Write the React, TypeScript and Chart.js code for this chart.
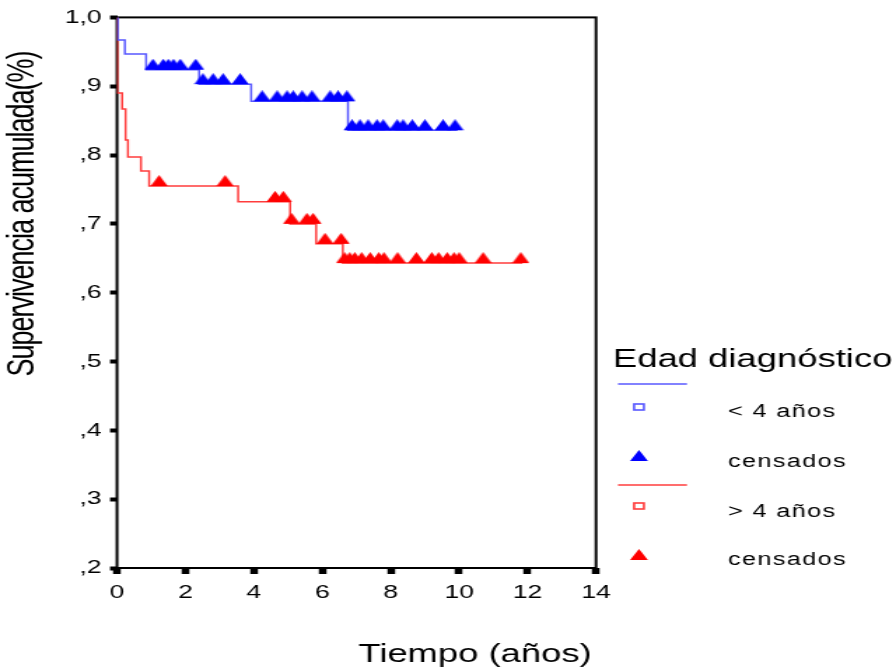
import React, { useEffect, useRef } from 'react';
import { Chart, registerables } from 'chart.js';
Chart.register(...registerables);

// ---- data ----
const blueTimes = [0, 0.02, 0.23, 0.85, 2.4, 3.92, 6.75, 9.95];
const blueSurv = [1.0, 0.967, 0.947, 0.924, 0.903, 0.878, 0.836, 0.836];
const blueCensTimes = [1.05, 1.35, 1.5, 1.65, 1.85, 2.3, 2.51, 2.81, 3.1, 3.6, 4.24, 4.68, 4.97, 5.15, 5.41, 5.7, 6.23, 6.46, 6.72, 6.87, 7.1, 7.34, 7.6, 7.78, 8.19, 8.36, 8.63, 9.0, 9.53, 9.88];
const blueCensSurv = [0.924, 0.924, 0.924, 0.924, 0.924, 0.924, 0.903, 0.903, 0.903, 0.903, 0.878, 0.878, 0.878, 0.878, 0.878, 0.878, 0.878, 0.878, 0.878, 0.836, 0.836, 0.836, 0.836, 0.836, 0.836, 0.836, 0.836, 0.836, 0.836, 0.836];

const redTimes = [0, 0.01, 0.15, 0.25, 0.32, 0.7, 0.94, 3.54, 5.06, 5.82, 6.6, 11.85];
const redSurv = [1.0, 0.89, 0.867, 0.822, 0.797, 0.777, 0.755, 0.732, 0.7, 0.671, 0.643, 0.643];
const redCensTimes = [1.23, 3.16, 4.62, 4.86, 5.1, 5.55, 5.73, 6.08, 6.55, 6.65, 6.8, 6.95, 7.15, 7.4, 7.65, 7.8, 8.2, 8.75, 9.2, 9.4, 9.65, 9.85, 10.0, 10.7, 11.8];
const redCensSurv = [0.755, 0.755, 0.732, 0.732, 0.7, 0.7, 0.7, 0.671, 0.671, 0.643, 0.643, 0.643, 0.643, 0.643, 0.643, 0.643, 0.643, 0.643, 0.643, 0.643, 0.643, 0.643, 0.643, 0.643, 0.643];

const xTicks = [0, 2, 4, 6, 8, 10, 12, 14];
const yTickLabels = [',2', ',3', ',4', ',5', ',6', ',7', ',8', ',9', '1,0'];
const yTitle = 'Supervivencia acumulada(%)';
const xTitle = 'Tiempo (años)';
const legendTitle = 'Edad diagnóstico';
const legendLabels = ['< 4 años', 'censados', '> 4 años', 'censados'];

// ---- styles ----
const S = 1.4; // horizontal stretch of the original picture
const W = 640;
const H = 669;
const FONT = 'Arial, "Liberation Sans", sans-serif';
const BLUE_LINE = '#5858ff';
const RED_LINE = '#ff3c3c';
const BLUE = '#0000ff';
const RED = '#ff0000';

function makeTri(color: string) {
  const c = document.createElement('canvas');
  c.width = 13;
  c.height = 22;
  const g = c.getContext('2d')!;
  g.fillStyle = color;
  g.beginPath();
  g.moveTo(6.5, 0);
  g.lineTo(12.6, 11);
  g.lineTo(0.4, 11);
  g.closePath();
  g.fill();
  return c;
}

const pts = (xs: number[], ys: number[]) => xs.map((x, i) => ({ x, y: ys[i] }));

const decor = {
  id: 'decor',
  beforeDatasetsDraw(chart: any) {
    const { ctx, chartArea: a } = chart;
    ctx.save();
    ctx.strokeStyle = '#000';
    ctx.lineWidth = 2;
    ctx.strokeRect(a.left, a.top, a.right - a.left, a.bottom - a.top);
    ctx.restore();
  },
  afterDraw(chart: any) {
    const ctx = chart.ctx as CanvasRenderingContext2D;
    ctx.save();
    ctx.fillStyle = '#000';
    // y title
    ctx.save();
    ctx.translate(23 / S, 214);
    ctx.rotate(-Math.PI / 2);
    ctx.font = `27px ${FONT}`;
    (ctx as any).letterSpacing = '-1px';
    ctx.textAlign = 'center';
    ctx.textBaseline = 'middle';
    ctx.fillText(yTitle, 0, 0);
    ctx.restore();
    // x title
    ctx.font = `26px ${FONT}`;
    ctx.textAlign = 'center';
    ctx.textBaseline = 'alphabetic';
    ctx.fillText(xTitle, 475 / S, 662);
    // legend title
    ctx.textAlign = 'left';
    ctx.fillText(legendTitle, 613 / S, 367);
    // legend lines
    const lines: [string, number][] = [[BLUE_LINE, 384], [RED_LINE, 485]];
    lines.forEach(([col, y]) => {
      ctx.strokeStyle = col;
      ctx.lineWidth = 1.5;
      ctx.beginPath();
      ctx.moveTo(618 / S, y);
      ctx.lineTo(687 / S, y);
      ctx.stroke();
    });
    // squares
    const sq: [string, number][] = [[BLUE_LINE, 407], [RED_LINE, 506]];
    sq.forEach(([col, y]) => {
      ctx.strokeStyle = col;
      ctx.lineWidth = 1.6;
      ctx.strokeRect(639 / S - 3.5, y - 3, 7, 6);
    });
    // triangles
    const tr: [string, number][] = [[BLUE, 461], [RED, 560]];
    tr.forEach(([col, y]) => {
      const cx = 639 / S;
      ctx.fillStyle = col;
      ctx.beginPath();
      ctx.moveTo(cx, y - 11);
      ctx.lineTo(cx + 6.4, y);
      ctx.lineTo(cx - 6.4, y);
      ctx.closePath();
      ctx.fill();
    });
    // labels
    ctx.fillStyle = '#000';
    ctx.font = `18px ${FONT}`;
    (ctx as any).letterSpacing = '1px';
    const baselines = [417, 467, 517, 565];
    legendLabels.forEach((t, i) => ctx.fillText(t, 728 / S, baselines[i]));
    ctx.restore();
  },
};

export default function App() {
  const ref = useRef<HTMLCanvasElement>(null);
  useEffect(() => {
    const triB = makeTri(BLUE);
    const triR = makeTri(RED);
    const chart = new Chart(ref.current!, {
      type: 'line',
      data: {
        datasets: [
          { label: '< 4 años', data: pts(blueTimes, blueSurv), borderColor: BLUE_LINE, borderWidth: 1.5, pointRadius: 0, stepped: true, fill: false, order: 1 },
          { label: '> 4 años', data: pts(redTimes, redSurv), borderColor: RED_LINE, borderWidth: 1.5, pointRadius: 0, stepped: true, fill: false, order: 1 },
          { label: 'censados', data: pts(blueCensTimes, blueCensSurv), showLine: false, pointStyle: triB as any, pointRadius: 6, borderColor: BLUE, backgroundColor: BLUE, order: 0 },
          { label: 'censados', data: pts(redCensTimes, redCensSurv), showLine: false, pointStyle: triR as any, pointRadius: 6, borderColor: RED, backgroundColor: RED, order: 0 },
        ],
      },
      options: {
        responsive: false,
        animation: false,
        devicePixelRatio: 1,
        events: [],
        layout: { padding: { left: 0, right: W - 596 / S, top: 16, bottom: 0 } },
        plugins: { legend: { display: false }, tooltip: { enabled: false } },
        scales: {
          x: {
            type: 'linear',
            min: 0,
            max: 14,
            afterFit: (s: any) => { s.height = 101; },
            afterBuildTicks: (s: any) => { s.ticks = xTicks.map((v) => ({ value: v })); },
            grid: { drawOnChartArea: false, drawTicks: true, tickLength: 6, tickWidth: 5.5, tickColor: '#000' },
            border: { display: false },
            ticks: { color: '#000', font: { family: FONT, size: 19 }, padding: 7, maxRotation: 0 },
          },
          y: {
            type: 'linear',
            min: 0.2,
            max: 1.0,
            afterFit: (s: any) => { s.width = 117 / S; },
            afterBuildTicks: (s: any) => { s.ticks = yTickLabels.map((_, i) => ({ value: 0.2 + i * 0.1 })); },
            grid: { drawOnChartArea: false, drawTicks: true, tickLength: 5, tickWidth: 4, tickColor: '#000' },
            border: { display: false },
            ticks: {
              color: '#000',
              font: { family: FONT, size: 19 },
              padding: 6,
              callback: (_v: any, i: number) => yTickLabels[i],
            },
          },
        },
      },
      plugins: [decor],
    });
    return () => chart.destroy();
  }, []);
  return (
    <div style={{ position: 'fixed', left: 0, top: 0, width: 896, height: 669, overflow: 'hidden', background: '#fff' }}>
      <div style={{ width: W, height: H, transform: `scaleX(${S})`, transformOrigin: '0 0' }}>
        <canvas ref={ref} width={W} height={H} style={{ width: W, height: H, display: 'block' }} />
      </div>
    </div>
  );
}
